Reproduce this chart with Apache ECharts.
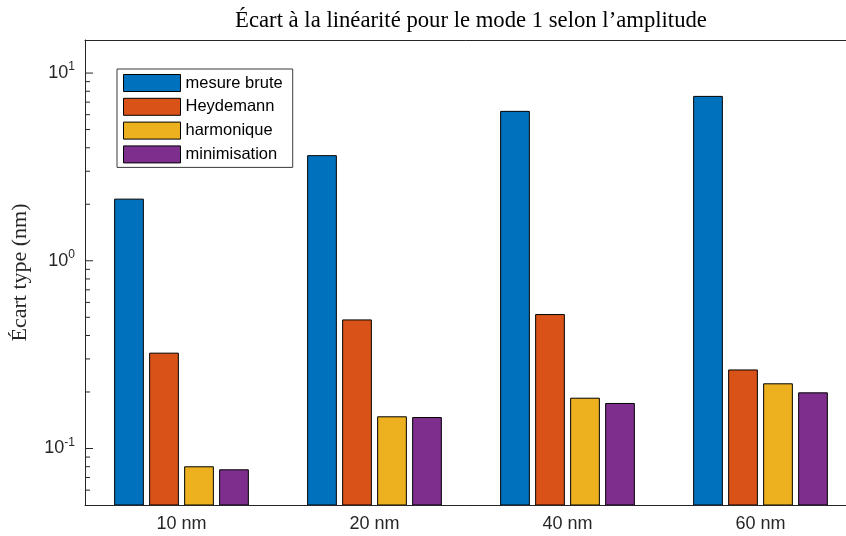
<!DOCTYPE html>
<html>
<head>
<meta charset="utf-8">
<script src="https://cdn.jsdelivr.net/npm/echarts@6/dist/echarts.min.js"></script>
<style>html,body{margin:0;padding:0;background:#fff}#c{width:846px;height:536px}</style>
</head>
<body>
<div id="c"></div>
<script>
const categories = ['10 nm', '20 nm', '40 nm', '60 nm'];
const seriesNames = ['mesure brute', 'Heydemann', 'harmonique', 'minimisation'];
const mesureBrute = [2.13, 3.63, 6.25, 7.51];
const heydemann = [0.322, 0.484, 0.517, 0.262];
const harmonique = [0.0799, 0.1475, 0.1853, 0.2211];
const minimisation = [0.0770, 0.1462, 0.1737, 0.1979];
const colors = ['#0072BD', '#D95319', '#EDB120', '#7E2F8E'];
const yMin = 0.05;
const yMax = 15;
const majorTicks = [0.1, 1, 10];
const minorTicks = [0.06, 0.07, 0.08, 0.09, 0.2, 0.3, 0.4, 0.5, 0.6, 0.7, 0.8, 0.9, 2, 3, 4, 5, 6, 7, 8, 9];

const axisColor = '#262626';
const sans = 'Liberation Sans, Arial, sans-serif';
const serif = 'Liberation Serif, Times New Roman, serif';
const BAR_W = 28.7, BAR_PITCH = 35;

const tickData = majorTicks.map(v => [0, v, 8]).concat(minorTicks.map(v => [0, v, 5]));
const values = [mesureBrute, heydemann, harmonique, minimisation];

const chart = echarts.init(document.getElementById('c'), null, {renderer: 'canvas'});

function barRenderer(i) {
  return function (params, api) {
    const cat = api.value(0);
    const top = api.coord([cat, api.value(1)]);
    const base = api.coord([cat, yMin]);
    const x = top[0] + (i - 1.5) * BAR_PITCH - BAR_W / 2;
    return {
      type: 'rect',
      shape: {x: x, y: top[1], width: BAR_W, height: base[1] - top[1]},
      style: {fill: colors[i], stroke: '#000', lineWidth: 1}
    };
  };
}

chart.setOption({
  animation: false,
  color: colors,
  grid: {left: 85, top: 40, width: 772, height: 465, containLabel: false, outerBoundsMode: 'none'},
  graphic: [{
    type: 'text', x: 471, y: 21,
    style: {text: 'Écart à la linéarité pour le mode 1 selon l’amplitude', align: 'center', verticalAlign: 'middle',
      fontSize: 22.7, fontFamily: serif, fill: '#000'}
  }],
  legend: {
    data: seriesNames, orient: 'vertical', left: 117, top: 69,
    itemWidth: 57, itemHeight: 17, itemGap: 5.8,
    padding: [5, 10, 4, 6], borderColor: '#3a3a3a', borderWidth: 1, backgroundColor: '#fff',
    textStyle: {fontSize: 16.5, fontFamily: sans, color: '#000', lineHeight: 17},
    itemStyle: {borderColor: '#000', borderWidth: 1},
    icon: 'rect'
  },
  xAxis: [{
    type: 'category', data: categories, position: 'bottom',
    axisLine: {lineStyle: {color: axisColor, width: 1}},
    axisTick: {inside: true, alignWithLabel: true, length: 8, lineStyle: {color: axisColor}},
    axisLabel: {fontSize: 18, fontFamily: sans, color: axisColor, margin: 10},
    splitLine: {show: false}
  }, {
    type: 'category', data: categories, position: 'top',
    axisLine: {lineStyle: {color: axisColor, width: 1}},
    axisTick: {inside: true, alignWithLabel: true, length: 8, lineStyle: {color: axisColor}},
    axisLabel: {show: false}, splitLine: {show: false}
  }],
  yAxis: {
    type: 'log', logBase: 10, min: yMin, max: yMax,
    axisLine: {show: true, lineStyle: {color: axisColor, width: 1}},
    axisTick: {show: false}, splitLine: {show: false}, minorTick: {show: false},
    name: 'Écart type (nm)', nameLocation: 'middle', nameGap: 54,
    nameTextStyle: {fontSize: 22, fontFamily: serif, color: axisColor},
    axisLabel: {
      margin: 10, color: axisColor,
      formatter: function (v) {
        const e = Math.log10(v);
        const r = Math.round(e);
        if (Math.abs(e - r) > 1e-6) return '';
        return '{b|10}{s|' + r + '}';
      },
      rich: {
        b: {fontSize: 18, fontFamily: sans, color: axisColor},
        s: {fontSize: 12, fontFamily: sans, color: axisColor, padding: [0, 0, 12, 0]}
      }
    }
  },
  series: seriesNames.map((n, i) => ({
    name: n, type: 'custom', xAxisIndex: 0, clip: true,
    data: values[i].map((v, k) => [k, v]),
    itemStyle: {color: colors[i], borderColor: '#000', borderWidth: 1},
    renderItem: barRenderer(i)
  })).concat([{
    type: 'custom', name: 'ticks', xAxisIndex: 0, silent: true, clip: false, z: 5,
    data: tickData,
    renderItem: function (params, api) {
      const p = api.coord([api.value(0), api.value(1)]);
      const x0 = params.coordSys.x;
      const len = api.value(2);
      return {type: 'line', shape: {x1: x0, y1: p[1], x2: x0 + len, y2: p[1]},
        style: {stroke: axisColor, lineWidth: 1}};
    }
  }])
});
</script>
</body>
</html>
